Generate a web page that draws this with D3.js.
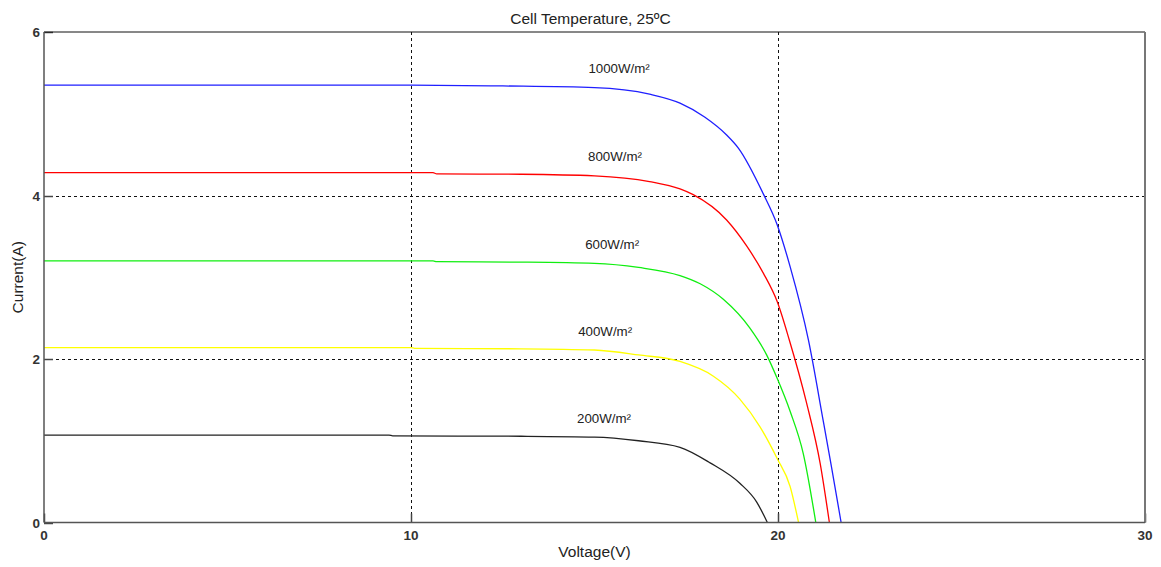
<!DOCTYPE html>
<html>
<head>
<meta charset="utf-8">
<title>I-V curves</title>
<script src="https://d3js.org/d3.v7.min.js"></script>
<style>
  html, body { margin: 0; padding: 0; background: #fff; overflow: hidden; }
  svg text { font-family: "Liberation Sans", Arial, sans-serif; fill: #222; }
  .tick-label { font-size: 13.5px; font-weight: bold; fill: #333; }
</style>
</head>
<body>
<svg id="chart" width="1161" height="567"></svg>
<script>
// values: [voltage (V), current (A)]
const irradiance = ['1000W/m²', '800W/m²', '600W/m²', '400W/m²', '200W/m²'];
const curve1000 = [[0, 5.35], [10, 5.35], [12.5, 5.34], [15, 5.32], [16.5, 5.24], [17.33, 5.13], [18.0, 4.96], [18.6, 4.74], [18.92, 4.58], [19.6, 4.02], [19.98, 3.64], [20.33, 3.13], [20.83, 2.23], [21.23, 1.25], [21.45, 0.7], [21.72, 0]];
const curve800 = [[0, 4.28], [10.6, 4.28], [10.7, 4.265], [13, 4.26], [15, 4.24], [16.5, 4.17], [17.33, 4.08], [17.69, 4.01], [18.6, 3.70], [19.15, 3.38], [19.6, 3.05], [19.98, 2.70], [20.31, 2.23], [20.78, 1.46], [21.15, 0.72], [21.40, 0]];
const curve600 = [[0, 3.2], [10.6, 3.2], [10.7, 3.19], [13, 3.185], [15, 3.17], [16.2, 3.12], [17.33, 3.02], [17.88, 2.92], [18.51, 2.73], [19.23, 2.38], [19.69, 2.05], [19.98, 1.76], [20.33, 1.36], [20.69, 0.84], [21.03, 0]];
const curve400 = [[0, 2.14], [10, 2.14], [10.1, 2.13], [13, 2.125], [15, 2.11], [16.2, 2.05], [17.33, 1.97], [18.24, 1.79], [18.96, 1.51], [19.51, 1.17], [19.98, 0.78], [20.33, 0.44], [20.56, 0]];
const curve200 = [[0, 1.07], [9.4, 1.07], [9.5, 1.06], [13, 1.055], [15, 1.045], [16.2, 1.0], [17.33, 0.92], [18.15, 0.73], [18.96, 0.48], [19.42, 0.25], [19.71, 0]];
const labelVoltage = [15.67, 15.56, 15.48, 15.29, 15.26];
const xTicks = [0, 10, 20, 30];
const yTicks = [0, 2, 4, 6];

const curves = [curve1000, curve800, curve600, curve400, curve200];
const colors = ['#1f1fff', '#ff0000', '#10ee10', '#ffff00', '#222222'];

const width = 1161, height = 567;
const margin = {left: 44, top: 32, right: 16, bottom: 44.5};

const svg = d3.select('#chart');

const x = d3.scaleLinear().domain([0, 30]).range([margin.left, width - margin.right]);
const y = d3.scaleLinear().domain([0, 6]).range([height - margin.bottom, margin.top]);

// grid (dotted)
const grid = svg.append('g')
    .attr('stroke', '#111')
    .attr('stroke-width', 1)
    .attr('stroke-dasharray', '3,3');
grid.selectAll('line.vx')
    .data(xTicks.filter(d => d > 0 && d < 30))
    .join('line')
    .attr('x1', d => Math.round(x(d)) + 0.5)
    .attr('x2', d => Math.round(x(d)) + 0.5)
    .attr('y1', y(6))
    .attr('y2', y(0));
grid.selectAll('line.hy')
    .data(yTicks.filter(d => d > 0 && d < 6))
    .join('line')
    .attr('x1', x(0))
    .attr('x2', x(30))
    .attr('y1', d => Math.round(y(d)) + 0.5)
    .attr('y2', d => Math.round(y(d)) + 0.5);

// inward tick marks
const ticks = svg.append('g').attr('stroke', '#444').attr('stroke-width', 1.5);
ticks.selectAll('line.tx')
    .data(xTicks)
    .join('line')
    .attr('x1', d => Math.round(x(d)) + 0.5)
    .attr('x2', d => Math.round(x(d)) + 0.5)
    .attr('y1', y(0))
    .attr('y2', y(0) - 9);
ticks.selectAll('line.ty')
    .data(yTicks)
    .join('line')
    .attr('x1', x(0))
    .attr('x2', x(0) + 9)
    .attr('y1', d => Math.round(y(d)) + 0.5)
    .attr('y2', d => Math.round(y(d)) + 0.5);

// curves
const line = d3.line()
    .x(d => x(d[0]))
    .y(d => y(d[1]))
    .curve(d3.curveMonotoneX);

svg.append('g')
    .selectAll('path')
    .data(curves)
    .join('path')
    .attr('fill', 'none')
    .attr('stroke', (d, i) => colors[i])
    .attr('stroke-width', 1.3)
    .attr('d', line);

// curve labels, just above the short-circuit current
svg.append('g')
    .selectAll('text')
    .data(irradiance)
    .join('text')
    .attr('x', (d, i) => x(labelVoltage[i]))
    .attr('y', (d, i) => y(curves[i][0][1]) - 12)
    .attr('text-anchor', 'middle')
    .attr('font-size', 13.3)
    .text(d => d);

// frame
const frame = svg.append('g').attr('fill', 'none');
frame.append('line')
    .attr('x1', x(0)).attr('x2', x(30)).attr('y1', y(6)).attr('y2', y(6))
    .attr('stroke', '#111').attr('stroke-width', 1);
frame.append('line')
    .attr('x1', x(30)).attr('x2', x(30)).attr('y1', y(6)).attr('y2', y(0))
    .attr('stroke', '#777').attr('stroke-width', 2);
frame.append('line')
    .attr('x1', x(0)).attr('x2', x(0)).attr('y1', y(6)).attr('y2', y(0))
    .attr('stroke', '#555').attr('stroke-width', 1.5);
frame.append('line')
    .attr('x1', x(0)).attr('x2', x(30)).attr('y1', y(0)).attr('y2', y(0))
    .attr('stroke', '#555').attr('stroke-width', 1.5);

// tick labels
svg.append('g')
    .selectAll('text')
    .data(xTicks)
    .join('text')
    .attr('class', 'tick-label')
    .attr('x', d => x(d))
    .attr('y', y(0) + 17)
    .attr('text-anchor', 'middle')
    .text(d => d);
svg.append('g')
    .selectAll('text')
    .data(yTicks)
    .join('text')
    .attr('class', 'tick-label')
    .attr('x', x(0) - 4)
    .attr('y', d => y(d) + 5)
    .attr('text-anchor', 'end')
    .text(d => d);

// titles
svg.append('text')
    .attr('x', (x(0) + x(30)) / 2 - 4)
    .attr('y', 24)
    .attr('text-anchor', 'middle')
    .attr('font-size', 15.5)
    .text('Cell Temperature, 25ºC');
svg.append('text')
    .attr('x', (x(0) + x(30)) / 2)
    .attr('y', 557)
    .attr('text-anchor', 'middle')
    .attr('font-size', 15.5)
    .text('Voltage(V)');
svg.append('text')
    .attr('transform', `translate(23 ${(y(0) + y(6)) / 2}) rotate(-90)`)
    .attr('text-anchor', 'middle')
    .attr('font-size', 15.5)
    .text('Current(A)');
</script>
</body>
</html>
